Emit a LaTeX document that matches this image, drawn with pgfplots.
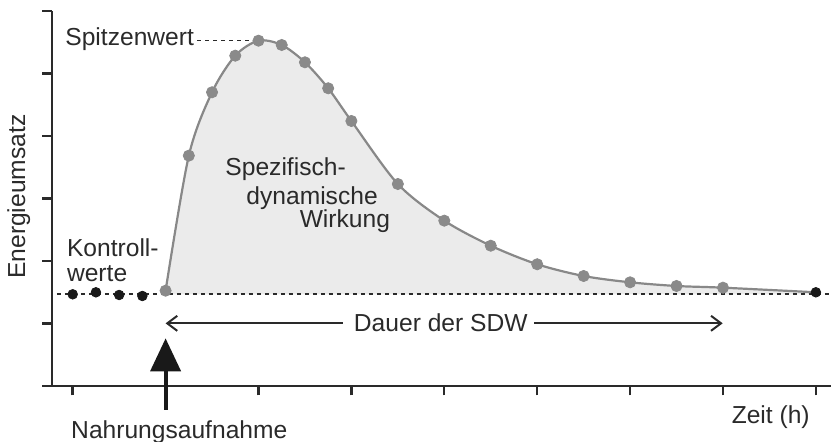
\documentclass[border=0pt]{standalone}
\usepackage{pgfplots}
\pgfplotsset{compat=1.18}
\usepgfplotslibrary{fillbetween}
\usetikzlibrary{arrows.meta}
\usepackage{fontspec}
\setmainfont{Liberation Sans}
\definecolor{axgray}{HTML}{2A2A2A}
\definecolor{txtgray}{HTML}{2A2A2A}
\definecolor{curvegray}{HTML}{888888}
\definecolor{markgray}{HTML}{8A8A8A}
\definecolor{fillgray}{HTML}{EBEBEB}
\newcommand\lf{\fontsize{12.3pt}{13.9pt}\selectfont}
\begin{document}
\begin{tikzpicture}
\begin{axis}[
  at={(0,0)}, anchor=origin,
  x=46.45pt, y=31.225pt,
  xmin=-0.226, xmax=8.162, ymin=0, ymax=6,
  axis x line=bottom, axis y line=left,
  axis line style={-, line width=1.2pt, color=axgray},
  xtick={0,1,2,3,4,5,6,7,8}, ytick={0,1,2,3,4,5,6},
  xticklabels={}, yticklabels={},
  xtick align=outside, ytick align=outside,
  major tick length=4.8pt,
  every tick/.style={line width=1.2pt, color=axgray},
  clip=false,
]
% fill under curve
\addplot[name path=curve, draw=none, smooth, forget plot] coordinates {
 (1,1.523) (1.25,3.685) (1.5,4.70) (1.75,5.286) (2,5.526) (2.25,5.457)
 (2.5,5.18) (2.75,4.764) (3,4.24) (3.5,3.231) (4,2.644) (4.5,2.243)
 (5,1.946) (5.5,1.758) (6,1.657) (6.5,1.598) (7,1.571) (8,1.497)};
\addplot[name path=base, draw=none, forget plot] coordinates {(1,1.465) (8,1.465)};
\addplot[fill=fillgray, draw=none, forget plot] fill between[of=curve and base];
% baseline dashed
\addplot[color=axgray, line width=1.1pt, dash pattern=on 2pt off 2pt, forget plot] coordinates {(-0.17,1.465) (8.162,1.465)};
% peak dashed
\addplot[color=axgray, line width=0.9pt, dash pattern=on 2pt off 2pt, forget plot] coordinates {(1.34,5.53) (1.96,5.53)};
% curve
\addplot[color=curvegray, line width=1.1pt, smooth, forget plot] coordinates {
 (1,1.523) (1.25,3.685) (1.5,4.70) (1.75,5.286) (2,5.526) (2.25,5.457)
 (2.5,5.18) (2.75,4.764) (3,4.24) (3.5,3.231) (4,2.644) (4.5,2.243)
 (5,1.946) (5.5,1.758) (6,1.657) (6.5,1.598) (7,1.571) (8,1.497)};
% gray markers
\addplot[only marks, mark=*, mark size=2.8pt, color=markgray, forget plot] coordinates {
 (1,1.523) (1.25,3.685) (1.5,4.70) (1.75,5.286) (2,5.526) (2.25,5.457)
 (2.5,5.18) (2.75,4.764) (3,4.24) (3.5,3.231) (4,2.644) (4.5,2.243)
 (5,1.946) (5.5,1.758) (6,1.657) (6.5,1.598) (7,1.571)};
% black markers
\addplot[only marks, mark=*, mark size=2.4pt, color=black!90, forget plot] coordinates {
 (0,1.465) (0.25,1.497) (0.5,1.454) (0.75,1.438) (8,1.497)};
% annotations
\draw[color=axgray, line width=1pt, -{Straight Barb[length=5pt,width=7.5pt]}] (axis cs:2.909,1) -- (axis cs:1.0,1);
\draw[color=axgray, line width=1pt, -{Straight Barb[length=5pt,width=7.5pt]}] (axis cs:4.966,1) -- (axis cs:6.997,1);
\draw[color=black!90, line width=2pt, -{Triangle[width=15pt,length=16.5pt]}] (axis cs:1,-0.387) -- (axis cs:1,0.76);
\node[font=\lf, text=txtgray, anchor=base, inner sep=0pt] at (axis cs:3.962,0.877) {Dauer der SDW};
\node[font=\lf, text=txtgray, anchor=base west, inner sep=0pt] at (axis cs:-0.083,5.441) {Spitzenwert};
\node[font=\lf, text=txtgray, anchor=base west, inner sep=0pt] at (axis cs:-0.065,2.067) {Kontroll-};
\node[font=\lf, text=txtgray, anchor=base west, inner sep=0pt] at (axis cs:-0.065,1.667) {werte};
\node[font=\lf, text=txtgray, anchor=base west, inner sep=0pt] at (axis cs:1.640,3.375) {Spezifisch-};
\node[font=\lf, text=txtgray, anchor=base west, inner sep=0pt] at (axis cs:1.866,2.895) {dynamische};
\node[font=\lf, text=txtgray, anchor=base west, inner sep=0pt] at (axis cs:2.440,2.538) {Wirkung};
\node[font=\lf, text=txtgray, anchor=base west, inner sep=0pt] at (axis cs:-0.02,-0.852) {Nahrungsaufnahme};
\node[font=\lf, text=txtgray, anchor=base west, inner sep=0pt] at (axis cs:7.09,-0.60) {Zeit (h)};
\node[font=\lf, text=txtgray, anchor=base, rotate=90, inner sep=0pt] at (axis cs:-0.513,3.028) {Energieumsatz};
\end{axis}
\pgfresetboundingbox
\path[use as bounding box] (-36.35pt,-28.1pt) rectangle (379.15pt,192.9pt);
\end{tikzpicture}
\end{document}
